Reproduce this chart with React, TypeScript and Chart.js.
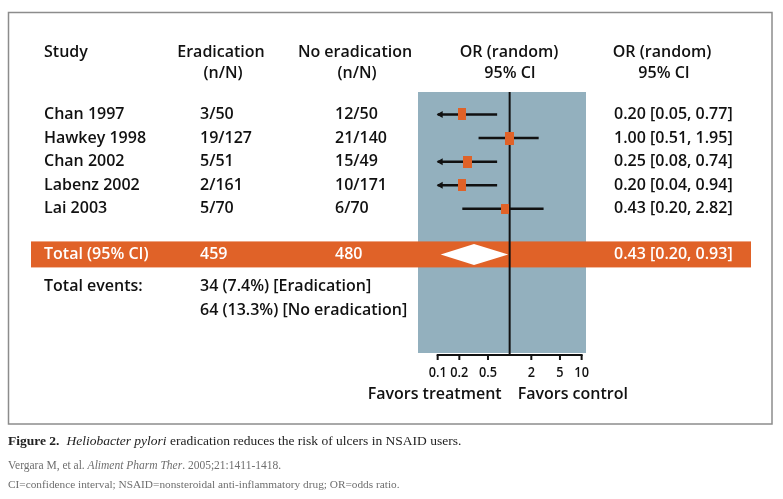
import React, { useEffect, useRef } from "react";
import { Chart, registerables } from "chart.js";
Chart.register(...registerables);

// ---- data ----
const studies = ["Chan 1997", "Hawkey 1998", "Chan 2002", "Labenz 2002", "Lai 2003"];
const eradication = ["3/50", "19/127", "5/51", "2/161", "5/70"];
const noEradication = ["12/50", "21/140", "15/49", "10/171", "6/70"];
const orLabels = [
  "0.20 [0.05, 0.77]",
  "1.00 [0.51, 1.95]",
  "0.25 [0.08, 0.74]",
  "0.20 [0.04, 0.94]",
  "0.43 [0.20, 2.82]",
];
// plotted positions as drawn in the figure
const orPoint = [0.215, 1.0, 0.258, 0.215, 0.855];
const ciLow = [0.05, 0.37, 0.08, 0.04, 0.22];
const ciHigh = [0.67, 2.53, 0.67, 0.67, 2.96];
const rows = [1, 2, 3, 4, 5];

const totalRow = 6.93;
const totalLabel = "Total (95% CI)";
const totalEradication = "459";
const totalNoEradication = "480";
const totalPoint = 0.32;
const totalLow = 0.11;
const totalHigh = 0.955;
const totalORLabel = "0.43 [0.20, 0.93]";

const eventsLabel = "Total events:";
const eventsRows = [8.3, 9.32];
const eventsTexts = ["34 (7.4%) [Eradication]", "64 (13.3%) [No eradication]"];

const xTicks = [0.1, 0.2, 0.5, 2, 5, 10];
const xTickLabels = ["0.1", "0.2", "0.5", "2", "5", "10"];
const axisMin = 0.1;
const axisMax = 10;

// ---- styles ----
const ORANGE = "rgb(224,98,40)";
const BLUE = "rgb(147,176,190)";
const INK = "#111";
const FONT = "'Open Sans', sans-serif";
const markerSizes = [
  [8, 12],
  [9, 13],
  [9, 12],
  [8, 12],
  [8, 10],
];

function makeMarker(w: number, h: number) {
  const c = document.createElement("canvas");
  c.width = w;
  c.height = h;
  const g = c.getContext("2d")!;
  g.fillStyle = ORANGE;
  g.fillRect(0, 0, w, h);
  return c;
}

export default function App() {
  const ref = useRef<HTMLCanvasElement>(null);

  useEffect(() => {
    document.body.style.margin = "0";
    const canvas = ref.current!;
    const markers = markerSizes.map(([w, h]) => makeMarker(w, h));

    const forestPlugin = {
      id: "forest",
      beforeDatasetsDraw(chart: any) {
        const { ctx, chartArea } = chart;
        const xs = chart.scales.x;
        const ys = chart.scales.y;
        ctx.save();
        ctx.fillStyle = "#fff";
        ctx.fillRect(0, 0, chart.width, chart.height);
        // frame
        ctx.strokeStyle = "#8c8c8c";
        ctx.lineWidth = 1.5;
        ctx.strokeRect(8.5, 12.5, 763.5, 411.5);
        // blue plot field
        ctx.fillStyle = BLUE;
        ctx.fillRect(chartArea.left, chartArea.top, chartArea.right - chartArea.left, chartArea.bottom - chartArea.top - 2);
        // orange total band
        const ty = ys.getPixelForValue(totalRow);
        ctx.fillStyle = ORANGE;
        ctx.fillRect(31, ty - 13, 720, 26);
        // diamond
        const dl = xs.getPixelForValue(totalLow);
        const dm = xs.getPixelForValue(totalPoint);
        const dr = xs.getPixelForValue(totalHigh);
        ctx.fillStyle = "#fff";
        ctx.beginPath();
        ctx.moveTo(dl, ty);
        ctx.lineTo(dm, ty - 10.5);
        ctx.lineTo(dr, ty);
        ctx.lineTo(dm, ty + 10.5);
        ctx.closePath();
        ctx.fill();
        // line of no effect
        const x1 = xs.getPixelForValue(1);
        ctx.strokeStyle = INK;
        ctx.lineWidth = 2;
        ctx.beginPath();
        ctx.moveTo(x1, chartArea.top);
        ctx.lineTo(x1, chartArea.bottom);
        ctx.stroke();
        // axis
        const ax0 = xs.getPixelForValue(axisMin);
        const ax1 = xs.getPixelForValue(axisMax);
        const ay = chartArea.bottom;
        ctx.beginPath();
        ctx.moveTo(ax0 - 1, ay);
        ctx.lineTo(ax1 + 1, ay);
        ctx.stroke();
        ctx.beginPath();
        xTicks.forEach((t) => {
          const px = xs.getPixelForValue(t);
          ctx.moveTo(px, ay);
          ctx.lineTo(px, ay + 5);
        });
        ctx.stroke();
        ctx.restore();
      },
      afterDatasetsDraw(chart: any) {
        const { ctx } = chart;
        const xs = chart.scales.x;
        const ys = chart.scales.y;
        ctx.save();
        // arrows for CIs that run off the axis
        ctx.fillStyle = INK;
        ciLow.forEach((lo, i) => {
          if (lo < axisMin) {
            const px = xs.getPixelForValue(axisMin);
            const py = ys.getPixelForValue(rows[i]);
            ctx.beginPath();
            ctx.moveTo(px - 1, py);
            ctx.lineTo(px + 5, py - 3.5);
            ctx.lineTo(px + 5, py + 3.5);
            ctx.closePath();
            ctx.fill();
          }
        });

        const text = (s: string, x: number, y: number, align: CanvasTextAlign, size = 16, color = INK, sx = 1) => {
          ctx.save();
          ctx.font = `600 ${size}px ${FONT}`;
          ctx.fillStyle = color;
          ctx.textAlign = align;
          ctx.textBaseline = "middle";
          ctx.translate(x, y);
          ctx.scale(sx, 1);
          ctx.fillText(s, 0, 0);
          ctx.restore();
        };
        // headers
        text("Study", 44, 52, "left");
        text("Eradication", 221, 52, "center");
        text("(n/N)", 223, 73, "center");
        text("No eradication", 355, 52, "center");
        text("(n/N)", 357, 73, "center");
        text("OR (random)", 509, 52, "center");
        text("95% CI", 510, 73, "center");
        text("OR (random)", 662, 52, "center");
        text("95% CI", 664, 73, "center");
        // study rows
        rows.forEach((r, i) => {
          const py = ys.getPixelForValue(r);
          text(studies[i], 44, py, "left");
          text(eradication[i], 200, py, "left");
          text(noEradication[i], 335, py, "left");
          text(orLabels[i], 614, py, "left");
        });
        // total
        const ty = ys.getPixelForValue(totalRow);
        text(totalLabel, 44, ty, "left", 16, "#fff");
        text(totalEradication, 200, ty, "left", 16, "#fff");
        text(totalNoEradication, 335, ty, "left", 16, "#fff");
        text(totalORLabel, 614, ty, "left", 16, "#fff");
        // events
        text(eventsLabel, 44, ys.getPixelForValue(eventsRows[0]), "left");
        eventsTexts.forEach((s, i) => text(s, 200, ys.getPixelForValue(eventsRows[i]), "left"));
        // tick labels
        xTicks.forEach((t, i) => text(xTickLabels[i], xs.getPixelForValue(t), 373, "center", 15, INK, 0.85));
        const x1 = xs.getPixelForValue(1);
        text("Favors treatment", x1 - 8, 394, "right", 16);
        text("Favors control", x1 + 8, 394, "left", 16);

        // caption
        ctx.textBaseline = "alphabetic";
        ctx.textAlign = "left";
        ctx.fillStyle = "#222";
        let cx = 8;
        ctx.font = "bold 13.5px 'Liberation Serif', serif";
        ctx.fillText("Figure 2.", cx, 445);
        cx += ctx.measureText("Figure 2.").width + 7;
        ctx.font = "italic 13.5px 'Liberation Serif', serif";
        ctx.fillText("Heliobacter pylori", cx, 445);
        cx += ctx.measureText("Heliobacter pylori ").width;
        ctx.font = "13.5px 'Liberation Serif', serif";
        ctx.fillText("eradication reduces the risk of ulcers in NSAID users.", cx, 445);

        ctx.fillStyle = "#6e6e6e";
        cx = 8;
        ctx.font = "11.5px 'Liberation Serif', serif";
        ctx.fillText("Vergara M, et al. ", cx, 469);
        cx += ctx.measureText("Vergara M, et al. ").width;
        ctx.font = "italic 11.5px 'Liberation Serif', serif";
        ctx.fillText("Aliment Pharm Ther", cx, 469);
        cx += ctx.measureText("Aliment Pharm Ther").width;
        ctx.font = "11.5px 'Liberation Serif', serif";
        ctx.fillText(". 2005;21:1411-1418.", cx, 469);
        ctx.font = "11.3px 'Liberation Serif', serif";
        ctx.fillText("CI=confidence interval; NSAID=nonsteroidal anti-inflammatory drug; OR=odds ratio.", 8, 488);
        ctx.restore();
      },
    };

    const ciDatasets = rows.map((r, i) => ({
      type: "scatter" as const,
      data: [
        { x: Math.max(ciLow[i], axisMin), y: r },
        { x: ciHigh[i], y: r },
      ],
      showLine: true,
      borderColor: INK,
      borderWidth: 2.5,
      pointRadius: 0,
      order: 2,
    }));

    const chart = new Chart(canvas, {
      type: "scatter",
      data: {
        datasets: [
          {
            data: orPoint.map((v, i) => ({ x: v, y: rows[i] })),
            pointStyle: (c: any) => markers[c.dataIndex] as any,
            pointRadius: 5,
            order: 1,
          } as any,
          ...ciDatasets,
        ],
      },
      options: {
        animation: false,
        responsive: false,
        devicePixelRatio: 1,
        layout: { padding: { left: 418, right: 197, top: 92, bottom: 144 } },
        plugins: { legend: { display: false }, tooltip: { enabled: false } },
        scales: {
          x: { type: "logarithmic", min: 0.0533, max: 11.5, display: false },
          y: { type: "linear", min: 0.05, max: 11.19, reverse: true, display: false },
        },
      },
      plugins: [forestPlugin],
    });
    return () => chart.destroy();
  }, []);

  return <canvas ref={ref} width={783} height={499} style={{ display: "block" }} />;
}
